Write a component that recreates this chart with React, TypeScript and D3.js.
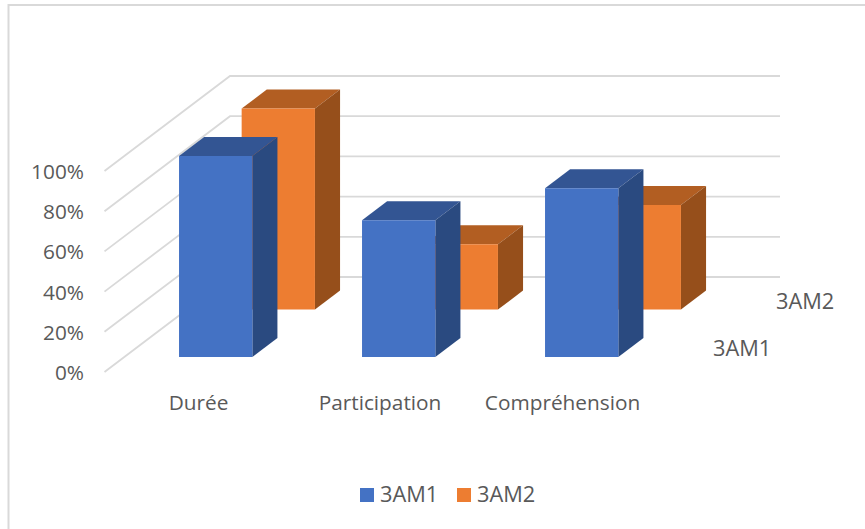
import React from "react";
import * as d3 from "d3";

const categories = ["Durée", "Participation", "Compréhension"];
const seriesNames = ["3AM1", "3AM2"];
const values3AM1 = [100, 68, 84];
const values3AM2 = [100, 32.5, 52];
const yTicks = [0, 20, 40, 60, 80, 100];

const frontFill = ["#4472C4", "#ED7D31"];
const topFill = ["#335593", "#B25E22"];
const sideFill = ["#2A4A80", "#964F1B"];
const gridColor = "#D9D9D9";
const textColor = "#595959";
const fontFamily = "'Open Sans', sans-serif";

// Oblique projection: depth 0 is the front of the floor, depth 1 the back wall.
const depthDx = 125.5;
const depthDy = -95;
const floorFrontX = 104.5;
const floorFrontY = 372;
const wallRightX = 780;

const heightScale = d3.scaleLinear().domain([0, 100]).range([0, 201]);
const categoryScale = d3.scalePoint<string>().domain(categories).range([159.2, 525.2]);
const seriesDepth = d3.scalePoint<string>().domain(seriesNames).range([0.158, 0.657]);
const barWidth = 73.3;
const barDepth = 0.2;

const project = (x: number, value: number, depth: number): [number, number] => [
  x + depthDx * depth,
  floorFrontY - heightScale(value) + depthDy * depth,
];

const polygon = (points: [number, number][]) => (d3.line()(points) ?? "") + "Z";

function Bar({ category, series, value }: { category: string; series: number; value: number }) {
  const x0 = categoryScale(category)!;
  const x1 = x0 + barWidth;
  const z0 = seriesDepth(seriesNames[series])!;
  const z1 = z0 + barDepth;
  return (
    <g>
      <path
        d={polygon([project(x0, value, z0), project(x1, value, z0), project(x1, value, z1), project(x0, value, z1)])}
        fill={topFill[series]}
      />
      <path
        d={polygon([project(x1, 0, z0), project(x1, value, z0), project(x1, value, z1), project(x1, 0, z1)])}
        fill={sideFill[series]}
      />
      <path
        d={polygon([project(x0, 0, z0), project(x1, 0, z0), project(x1, value, z0), project(x0, value, z0)])}
        fill={frontFill[series]}
      />
    </g>
  );
}

export default function App() {
  const text = { fontFamily, fill: textColor, fontSize: 20.8 };
  const seriesText = { ...text, fontSize: 21.8 };
  const legendX = [360, 457];
  return (
    <svg
      width={865}
      height={529}
      viewBox="0 0 865 529"
      style={{ position: "absolute", left: 0, top: 0, background: "#fff" }}
    >
      <rect x={8.5} y={5} width={880} height={560} fill="#fff" stroke={gridColor} strokeWidth={2} />

      {/* Floor and back-wall gridlines */}
      {yTicks.map((t) => {
        const a = project(floorFrontX, t, 0);
        const b = project(floorFrontX, t, 1);
        return (
          <g key={t}>
            <path
              d={d3.line()([a, b, [wallRightX, b[1]]]) ?? ""}
              fill="none"
              stroke={gridColor}
              strokeWidth={1.8}
            />
            <text {...text} x={84} y={a[1] + 8} textAnchor="end">
              {t}%
            </text>
          </g>
        );
      })}

      {/* Rear series first so the front row overlaps it */}
      {categories.map((c, i) => (
        <Bar key={c} category={c} series={1} value={values3AM2[i]} />
      ))}
      {categories.map((c, i) => (
        <Bar key={c} category={c} series={0} value={values3AM1[i]} />
      ))}

      {categories.map((c, i) => (
        <text {...text} key={c} x={[198.5, 380, 562.5][i]} y={410} textAnchor="middle">
          {c}
        </text>
      ))}

      <text {...seriesText} x={713} y={356}>{seriesNames[0]}</text>
      <text {...seriesText} x={776} y={309}>{seriesNames[1]}</text>

      {seriesNames.map((s, i) => (
        <g key={s}>
          <rect x={legendX[i]} y={488} width={14} height={14} fill={frontFill[i]} />
          <text {...seriesText} x={legendX[i] + 20} y={502}>{s}</text>
        </g>
      ))}
    </svg>
  );
}
